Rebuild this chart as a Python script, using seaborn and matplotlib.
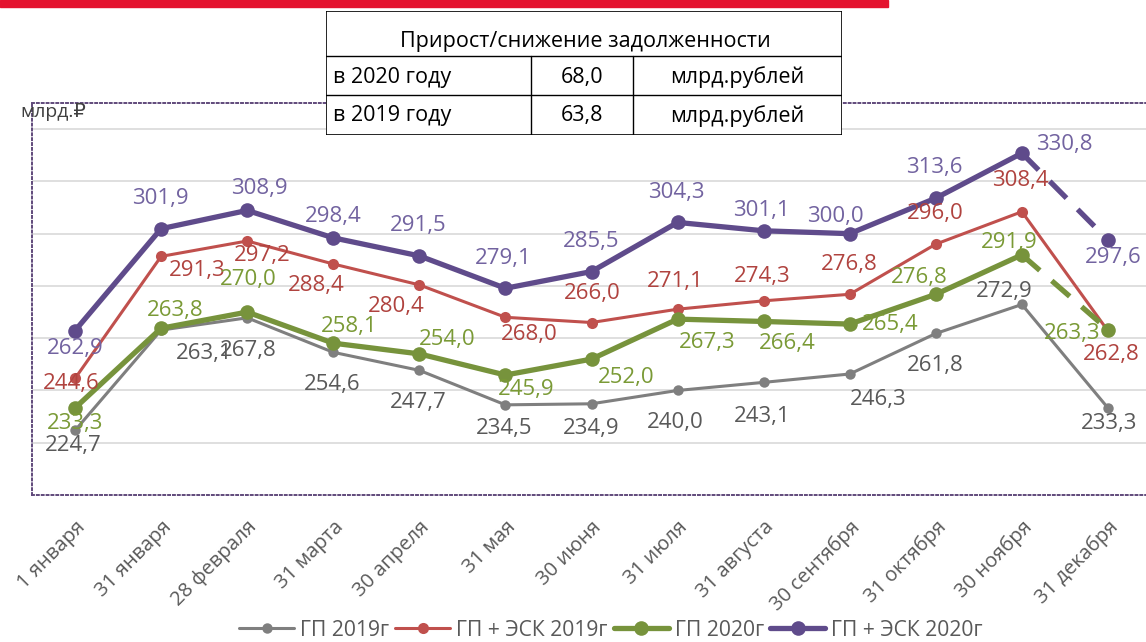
import matplotlib
matplotlib.use("Agg")
import matplotlib.pyplot as plt
import numpy as np
import pandas as pd
import seaborn as sns
from matplotlib.lines import Line2D
from matplotlib.patches import Rectangle

# Data
dates = ['1 января', '31 января', '28 февраля', '31 марта', '30 апреля', '31 мая', '30 июня',
         '31 июля', '31 августа', '30 сентября', '31 октября', '30 ноября', '31 декабря']
gp_2019 = [224.7, 263.1, 267.8, 254.6, 247.7, 234.5, 234.9, 240.0, 243.1, 246.3, 261.8, 272.9, 233.3]
gp_esk_2019 = [244.6, 291.3, 297.2, 288.4, 280.4, 268.0, 266.0, 271.1, 274.3, 276.8, 296.0, 308.4, 262.8]
gp_2020 = [233.3, 263.8, 270.0, 258.1, 254.0, 245.9, 252.0, 267.3, 266.4, 265.4, 276.8, 291.9, 263.3]
gp_esk_2020 = [262.9, 301.9, 308.9, 298.4, 291.5, 279.1, 285.5, 304.3, 301.1, 300.0, 313.6, 330.8, 297.6]
series_names = ['ГП 2019г', 'ГП + ЭСК 2019г', 'ГП 2020г', 'ГП + ЭСК 2020г']
series_values = [gp_2019, gp_esk_2019, gp_2020, gp_esk_2020]

table_title = 'Прирост/снижение задолженности'
table_years = ['в 2020 году', 'в 2019 году']
table_values = ['68,0', '63,8']
table_units = ['млрд.рублей', 'млрд.рублей']
unit_label = 'млрд.₽'

df = pd.concat([pd.DataFrame({'idx': np.arange(len(dates)), 'date': dates, 'value': v, 'series': n})
                for n, v in zip(series_names, series_values)], ignore_index=True)

# Styles
line_colors = ['#7F7F7F', '#C0504D', '#77933C', '#5F4B8B']
text_colors = ['#595959', '#B0433F', '#7A9A36', '#7263A0']
line_widths = [2.2, 2.2, 3.8, 3.8]
marker_sizes = [7.5, 8.0, 10.5, 10.5]
dashed_last = [False, False, True, True]

# label offsets in pixels (dx, dy downwards)
label_offsets = [
    [(-2, 15), (43, 23), (1, 33), (-1, 32), (-1, 32), (-1, 24), (0, 25), (-2, 32), (-1, 34), (28, 25), (-1, 32), (-18, -13), (1, 16)],
    [(-4, 5), (36, 14), (15, 15), (-17, 22), (-23, 22), (24, 17), (1, -29), (-2, -28), (-1, -24), (0, -30), (-1, -31), (-2, -31), (3, 24)],
    [(0, 16), (14, -18), (1, -33), (16, -17), (28, -14), (21, 14), (35, 18), (30, 23), (24, 22), (40, 0), (-17, -17), (-13, -12), (-36, 4)],
    [(0, 18), (-1, -30), (12, -22), (0, -21), (-1, -30), (-2, -30), (0, -30), (-1, -30), (-2, -20), (-14, -17), (-1, -31), (42, -9), (5, 18)],
]

sns.set_style('white')
plt.rcParams['font.family'] = ['Open Sans', 'DejaVu Sans']

W, H = 1146, 642
fig = plt.figure(figsize=(W / 100, H / 100), dpi=100)

# red strip at the top
fig.patches.append(Rectangle((0, 1 - 7 / H), 888 / W, 7 / H, transform=fig.transFigure,
                             color='#E4132F', zorder=0))

ax = fig.add_axes([32 / W, (H - 495) / H, 1119 / W, 392 / H])

for i, name in enumerate(series_names):
    sub = df[df['series'] == name]
    main = sub.iloc[:-1] if dashed_last[i] else sub
    sns.lineplot(data=main, x='idx', y='value', ax=ax, color=line_colors[i], linewidth=line_widths[i],
                 marker='o', markersize=marker_sizes[i], markeredgewidth=0, legend=False,
                 zorder=3 + i)
    if dashed_last[i]:
        tail = sub.iloc[-2:]
        ax.plot(tail['idx'], tail['value'], color=line_colors[i], linewidth=line_widths[i],
                linestyle=(0, (4.5, 3.0)), dash_capstyle='butt', zorder=3 + i)
        ax.plot(tail['idx'].iloc[-1:], tail['value'].iloc[-1:], 'o', color=line_colors[i],
                markersize=marker_sizes[i], markeredgewidth=0, zorder=3 + i)

for i, name in enumerate(series_names):
    for j, v in enumerate(series_values[i]):
        dx, dy = label_offsets[i][j]
        ax.annotate(f'{v:.1f}'.replace('.', ','), (j, v), xytext=(dx, -dy),
                    textcoords='offset pixels', ha='center', va='center',
                    fontsize=16, color=text_colors[i], zorder=10)

ax.set_xlim(-0.5, 12.5)
ax.set_ylim(200, 350)
ax.set_yticks(range(220, 341, 20))
ax.yaxis.grid(True, color='#D9D9D9', linewidth=1.2, zorder=0)
ax.set_axisbelow(True)
ax.tick_params(axis='y', left=False, labelleft=False)

ax.set_xticks(range(len(dates)))
ax.set_xticklabels(dates, rotation=45, ha='right', rotation_mode='anchor',
                   fontsize=14.5, color='#595959')
ax.set_xticks(np.arange(-0.5, 13, 1), minor=True)
ax.tick_params(axis='x', which='major', length=0, pad=16)
ax.tick_params(axis='x', which='minor', length=5, color='#D9D9D9', width=1.2)
ax.set_xlabel('')
ax.set_ylabel('')

for side in ['top', 'left', 'bottom']:
    ax.spines[side].set_linestyle((0, (1, 1.5)))
    ax.spines[side].set_color('#604A7B')
    ax.spines[side].set_linewidth(1.4)
ax.spines['right'].set_visible(False)

# units
fig.text(20 / W, 1 - 112 / H, unit_label, fontsize=14, color='#404040', va='center', ha='left')

# legend
handles = [Line2D([0], [0], color=line_colors[i], linewidth=line_widths[i], marker='o',
                  markersize=marker_sizes[i], markeredgewidth=0) for i in range(4)]
leg = fig.legend(handles, series_names, loc='center', bbox_to_anchor=(611 / W, 12 / H), ncol=4,
                 frameon=False, fontsize=15.2, handlelength=2.6, handletextpad=0.28,
                 columnspacing=0.3, borderpad=0)
for t in leg.get_texts():
    t.set_color('#595959')

# table
tax = fig.add_axes([326 / W, 1 - 135 / H, 516 / W, 124 / H])
tax.set_xlim(0, 516)
tax.set_ylim(124, 0)
tax.axis('off')
tax.add_patch(Rectangle((0, 0), 516, 124, facecolor='white', edgecolor='black', linewidth=1.2))
tax.plot([0, 516], [45, 45], color='black', linewidth=1.0)
tax.plot([0, 516], [84, 84], color='black', linewidth=1.0)
tax.plot([205, 205], [45, 124], color='black', linewidth=1.0)
tax.plot([307, 307], [45, 124], color='black', linewidth=1.0)
tax.text(259, 31, table_title, ha='center', va='center', fontsize=15.5, color='black')
for k, ycen in enumerate([66, 105]):
    tax.text(7, ycen, table_years[k], ha='left', va='center', fontsize=15.5, color='black')
    tax.text(256, ycen, table_values[k], ha='center', va='center', fontsize=15.5, color='black')
    tax.text(411, ycen, table_units[k], ha='center', va='center', fontsize=15.5, color='black')

fig.savefig('out.png', dpi=100)
